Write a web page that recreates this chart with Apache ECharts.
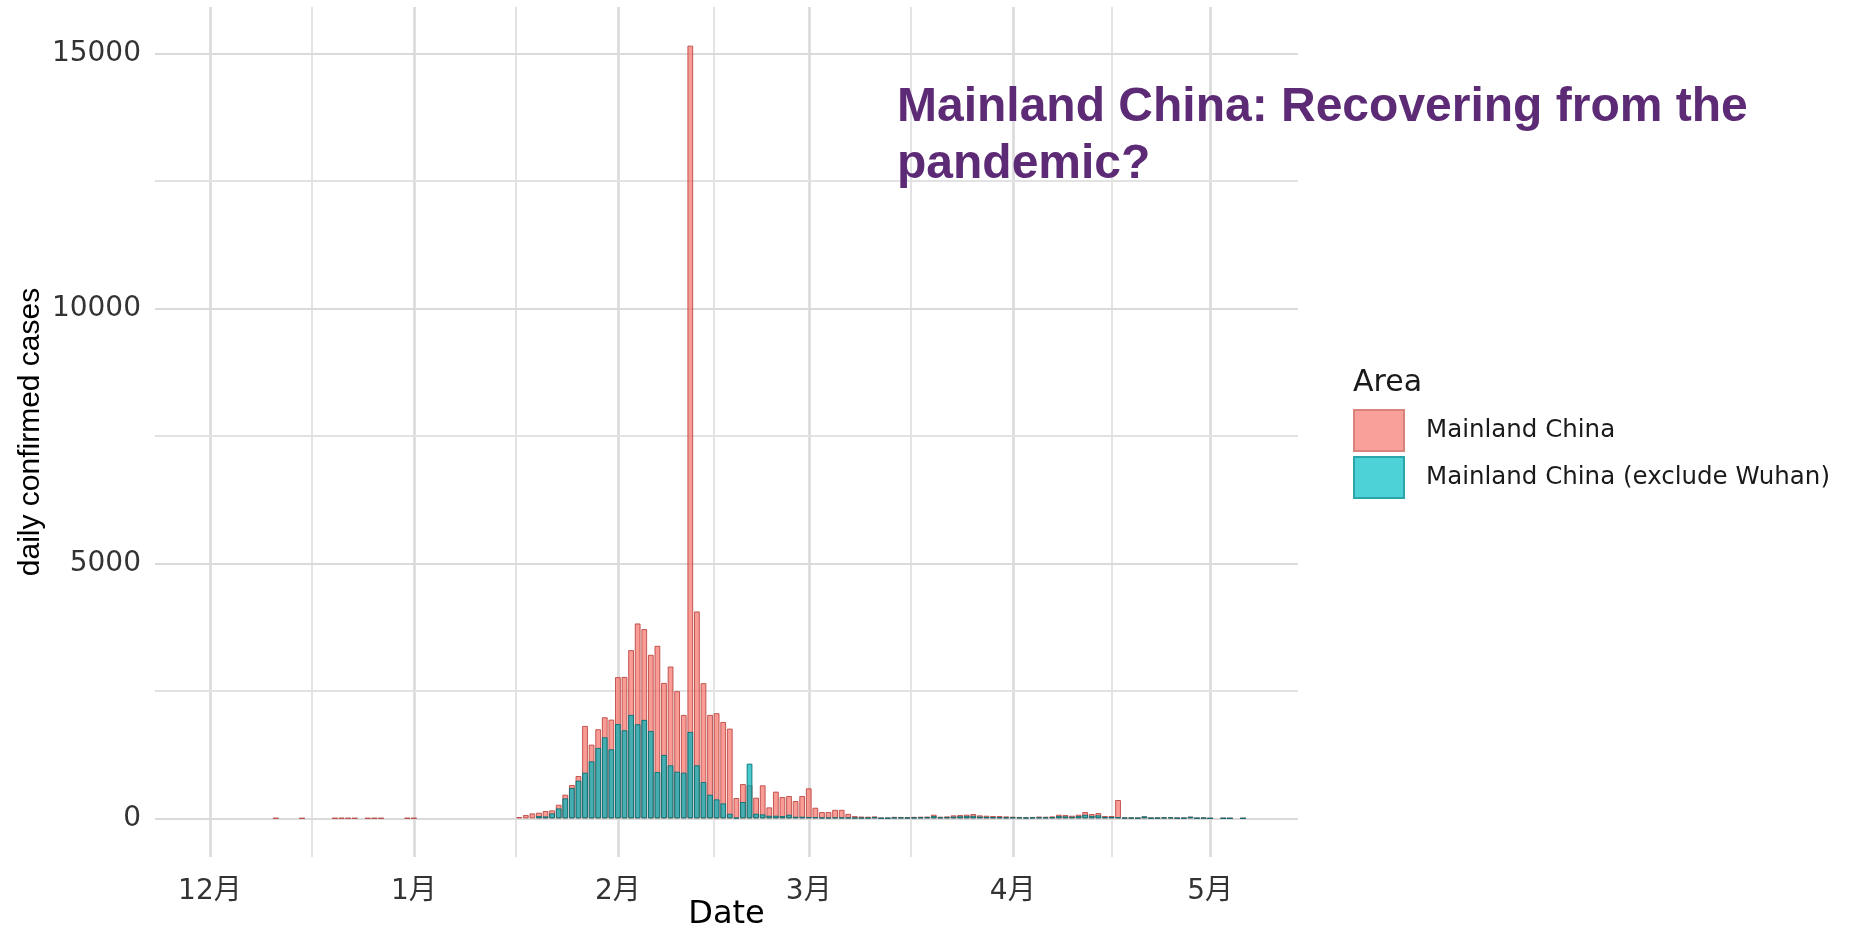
<!DOCTYPE html>
<html><head><meta charset="utf-8">
<script src="https://cdn.jsdelivr.net/npm/echarts@6/dist/echarts.min.js"></script>
<style>html,body{margin:0;padding:0;background:#fff}#c{width:1870px;height:926px}</style>
</head><body><div id="c"></div>
<script>
// Daily confirmed cases, one value per day starting 2019-12-01
const decChina   = [0,0,0,0,0,0,0,0,0,0,4,0,0,0,3,0,0,0,0,4,6,5,4,0,3,5,4,0,0,0,6];
const decExWuhan = [0,0,0,0,0,0,0,0,0,0,0,0,0,0,0,0,0,0,0,0,0,0,0,0,0,0,0,0,0,0,0];
const janChina   = [5,0,0,0,0,0,0,0,0,0,0,0,0,0,0,0,26,65,98,111,144,157,268,465,655,831,1813,1446,1748,1983,1937];
const janExWuhan = [0,0,0,0,0,0,0,0,0,0,0,0,0,0,0,0,0,0,0,46,39,98,196,393,596,740,897,1119,1381,1590,1355];
const febChina   = [2770,2775,3299,3822,3711,3207,3384,2657,2978,2494,2029,15152,4058,2651,2029,2062,1891,1760,399,674,650,406,648,216,524,419,439,340,439];
const febExWuhan = [1850,1728,2029,1846,1931,1715,910,1244,1041,916,897,1695,1041,713,465,373,295,92,10,321,1073,92,79,52,52,46,72,33,33];
const marChina   = [589,209,124,124,168,168,88,44,36,33,39,8,8,30,28,26,30,33,36,72,33,39,59,65,72,85,59,52,46,46,39];
const marExWuhan = [26,26,15,15,20,15,15,10,10,10,25,5,5,15,15,12,15,20,25,45,20,25,35,40,45,50,35,30,25,25,20];
const aprChina   = [33,28,20,28,36,33,39,72,65,52,72,124,85,105,46,46,360,13,13,7,39,8,10,18,20,7,8,33,5,10];
const aprExWuhan = [20,18,12,18,22,20,25,45,40,30,45,70,50,60,28,28,25,13,13,7,39,8,10,18,20,7,8,33,5,10];
const mayChina   = [1,0,3,2,0,2];
const mayExWuhan = [1,0,3,2,0,2];

const seriesNames = ['Mainland China', 'Mainland China (exclude Wuhan)'];
const monthTickDays = [0, 31, 62, 91, 122, 152];   // day index of 1st of each month
const monthLabels = ['12月', '1月', '2月', '3月', '4月', '5月'];
const yMajorTicks = [0, 5000, 10000, 15000];
const yMinorTicks = [2500, 7500, 12500];

const china = [].concat(decChina, janChina, febChina, marChina, aprChina, mayChina);
const exWuhan = [].concat(decExWuhan, janExWuhan, febExWuhan, marExWuhan, aprExWuhan, mayExWuhan);
const n = china.length;
const half = 0.45;
const xPad = 0.05 * (n - 1 + 2 * half);
const xMin = -half - xPad, xMax = n - 1 + half + xPad;
const yMaxData = Math.max(...china);
const yPad = 0.05 * yMaxData;
const minorDays = monthTickDays.slice(1).map((d, i) => (d + monthTickDays[i]) / 2);

const gridLines = [].concat(
  monthTickDays.map(d => ({xAxis: d, lineStyle: {color: '#dadada', width: 2.6, type: 'solid'}})),
  minorDays.map(d => ({xAxis: d, lineStyle: {color: '#e2e2e2', width: 1.9, type: 'solid'}})),
  yMajorTicks.map(v => ({yAxis: v, lineStyle: {color: '#dadada', width: 2.2, type: 'solid'}})),
  yMinorTicks.map(v => ({yAxis: v, lineStyle: {color: '#e2e2e2', width: 1.8, type: 'solid'}}))
);

const toData = arr => arr.map((v, i) => [i, v > 0 ? v : '-']);

const chart = echarts.init(document.getElementById('c'));
chart.setOption({
  animation: false,
  backgroundColor: '#ffffff',
  title: [
    {text: 'Mainland China: Recovering from the\npandemic?', left: 897, top: 79, padding: 0,
     textStyle: {fontFamily: 'Liberation Sans, Arial', fontWeight: 'bold', fontSize: 48, lineHeight: 57, color: '#5d2b76'}},
    {text: 'Area', left: 1353, top: 368, padding: 0,
     textStyle: {fontFamily: 'DejaVu Sans', fontWeight: 'normal', fontSize: 30, color: '#1a1a1a'}}
  ],
  legend: {
    orient: 'vertical', left: 1353, top: 409, padding: 0,
    itemWidth: 50, itemHeight: 41, itemGap: 4, icon: 'rect',
    textStyle: {fontFamily: 'DejaVu Sans', fontSize: 24.5, color: '#1a1a1a', padding: [0, 0, 0, 17]},
    data: [
      {name: seriesNames[0], itemStyle: {color: '#f9a09a', borderColor: '#d9837d', borderWidth: 2}},
      {name: seriesNames[1], itemStyle: {color: '#4dd3d7', borderColor: '#2aa6aa', borderWidth: 2}}
    ]
  },
  grid: {left: 155, right: 572, top: 7, bottom: 69, containLabel: false, outerBoundsMode: 'none'},
  xAxis: {
    type: 'value', min: xMin, max: xMax,
    axisLine: {show: false}, axisTick: {show: false}, splitLine: {show: false},
    axisLabel: {
      customValues: monthTickDays,
      formatter: v => monthLabels[monthTickDays.indexOf(v)] || '',
      fontFamily: 'DejaVu Sans, Noto Sans CJK SC', fontSize: 28, color: '#333', margin: 21
    },
    name: 'Date', nameLocation: 'middle', nameGap: 42, nameMoveOverlap: false,
    nameTextStyle: {fontFamily: 'DejaVu Sans', fontSize: 32, color: '#000'}
  },
  yAxis: {
    type: 'value', min: -yPad, max: yMaxData + yPad,
    axisLine: {show: false}, axisTick: {show: false}, splitLine: {show: false},
    axisLabel: {customValues: yMajorTicks, formatter: v => String(v),
      fontFamily: 'DejaVu Sans', fontSize: 28, color: '#333', margin: 14, padding: [4, 0, 0, 0]},
    name: 'daily confirmed cases', nameLocation: 'middle', nameRotate: 90, nameGap: 109, nameMoveOverlap: false,
    nameTextStyle: {fontFamily: 'Liberation Sans, Arial', fontSize: 30, color: '#000'}
  },
  series: [
    {
      name: seriesNames[0], type: 'bar', data: toData(china),
      barWidth: '88%', barGap: '-100%', z: 2,
      itemStyle: {color: 'rgba(248,118,109,0.72)', borderColor: 'rgba(185,65,60,0.85)', borderWidth: 1},
      markLine: {silent: true, symbol: 'none', z: 1, label: {show: false}, data: gridLines}
    },
    {
      name: seriesNames[1], type: 'bar', data: toData(exWuhan),
      barWidth: '88%', barGap: '-100%', z: 3,
      itemStyle: {color: 'rgba(0,180,186,0.72)', borderColor: 'rgba(0,110,115,0.85)', borderWidth: 1}
    }
  ]
});
</script></body></html>
